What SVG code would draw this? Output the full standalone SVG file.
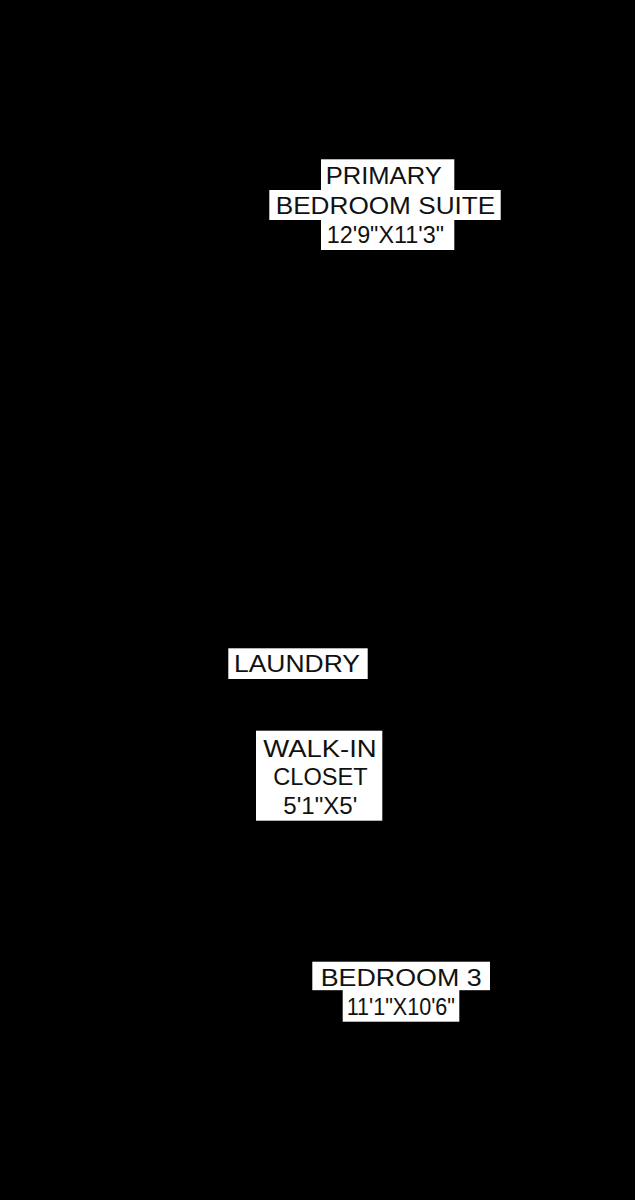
<svg xmlns="http://www.w3.org/2000/svg" width="635" height="1200" viewBox="0 0 635 1200">
<style>
.bg{fill:#ffffff;}
.t{font-family:"Liberation Sans","Noto Sans",sans-serif;font-size:23.5px;fill:#111111;font-weight:400;}
</style>
<rect x="0" y="0" width="635" height="1200" fill="#000000"/>
<g id="primary-bedroom">
<rect class="bg" x="321" y="159.3" width="133.3" height="31"/>
<rect class="bg" x="269.3" y="190" width="231.4" height="30"/>
<rect class="bg" x="321" y="220" width="133.3" height="30"/>
<text class="t" x="325.7" y="184.3" textLength="116" lengthAdjust="spacingAndGlyphs">PRIMARY</text>
<text class="t" x="275.7" y="214.3" textLength="219.6" lengthAdjust="spacingAndGlyphs">BEDROOM SUITE</text>
<text class="t" x="326.7" y="243" textLength="117.3" lengthAdjust="spacingAndGlyphs">12'9"X11'3"</text>
</g>
<g id="laundry">
<rect class="bg" x="228.3" y="648.3" width="139.4" height="30.7"/>
<text class="t" x="234" y="672.3" textLength="126" lengthAdjust="spacingAndGlyphs">LAUNDRY</text>
</g>
<g id="walk-in-closet">
<rect class="bg" x="256" y="730.7" width="126.3" height="90"/>
<text class="t" x="263.3" y="756.7" textLength="113.4" lengthAdjust="spacingAndGlyphs">WALK-IN</text>
<text class="t" x="273.3" y="785.3" textLength="94.4" lengthAdjust="spacingAndGlyphs">CLOSET</text>
<text class="t" x="283.3" y="814" textLength="74" lengthAdjust="spacingAndGlyphs">5'1"X5'</text>
</g>
<g id="bedroom-3">
<rect class="bg" x="312.3" y="961.7" width="177.7" height="28.5"/>
<rect class="bg" x="342.7" y="990" width="116.6" height="31.7"/>
<text class="t" x="320.7" y="985.7" textLength="161" lengthAdjust="spacingAndGlyphs">BEDROOM 3</text>
<text class="t" x="346.7" y="1015" textLength="108.3" lengthAdjust="spacingAndGlyphs">11'1"X10'6"</text>
</g>
<g id="connectors"></g>
</svg>
